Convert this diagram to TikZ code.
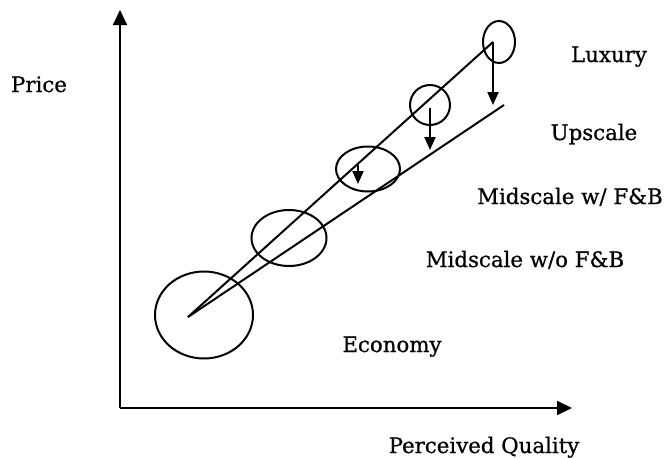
\documentclass[tikz,border=0pt]{standalone}
\usepackage{fontspec}
\setmainfont{DejaVu Serif}[FakeBold=0.7]
\usetikzlibrary{shapes.geometric,arrows.meta}

\begin{document}
\begin{tikzpicture}[x=1pt, y=-1pt,
% Axis style
		axis/.style={line width=2pt
							    , draw=black
							    , -{Triangle[length=15pt, width=14pt]}},
% Segment circles
		segment/.style={ellipse
							    , draw=black, line width=2pt
							    , inner sep=0pt},
		drop/.style={line width=2pt
							    , -{Triangle[length=13pt, width=11pt]}},
		trend/.style={line width=2pt},
% Labels
		label/.style={font=\fontsize{21.3}{24}\selectfont
							    , anchor=base
							    , inner sep=0pt}
	]
		\useasboundingbox (0,0) rectangle (665,458);
%% Axes
		\coordinate (origin) at (120,408);
		\coordinate (ytip) at (120,10);
		\coordinate (xtip) at (572,408);
		\draw[axis] (origin) -- (ytip);
		\draw[axis] (origin) -- (xtip);
%% Segments
		\node [segment, minimum width=98pt, minimum height=87pt] (economy) at (204,315) {};
		\node [segment, minimum width=75pt, minimum height=56pt] (midwo) at (289,238) {};
		\node [segment, minimum width=64pt, minimum height=45pt] (midw) at (368,169) {};
		\node [segment, minimum width=40pt, minimum height=40pt] (upscale) at (430,105) {};
		\node [segment, minimum width=32pt, minimum height=42pt] (luxury) at (499,42) {};
%% Price lines
		\coordinate (apex) at (188,317);
		\coordinate (high) at (493,42);
		\coordinate (low) at (504,105);
		\draw[trend] (apex) -- (high);
		\draw[trend] (apex) -- (low);
%% Repositioning arrows
		\coordinate (d1a) at (493,42);
		\coordinate (d1b) at (493,105);
		\coordinate (d2a) at (430,108);
		\coordinate (d2b) at (430,150);
		\coordinate (d3a) at (358,165);
		\coordinate (d3b) at (358,184);
		\draw[drop] (d1a) -- (d1b);
		\draw[drop] (d2a) -- (d2b);
		\draw[drop] (d3a) -- (d3b);
%% Labels
		\node [label] (lprice) at (39,92) {Price};
		\node [label] (lluxury) at (609,62) {Luxury};
		\node [label] (lupscale) at (594,140) {Upscale};
		\node [label] (lmidw) at (570,204) {Midscale w/ F\&B};
		\node [label] (lmidwo) at (525,267) {Midscale w/o F\&B};
		\node [label] (leconomy) at (392,352) {Economy};
		\node [label] (lquality) at (484,453) {Perceived Quality};
\end{tikzpicture}
\end{document}
